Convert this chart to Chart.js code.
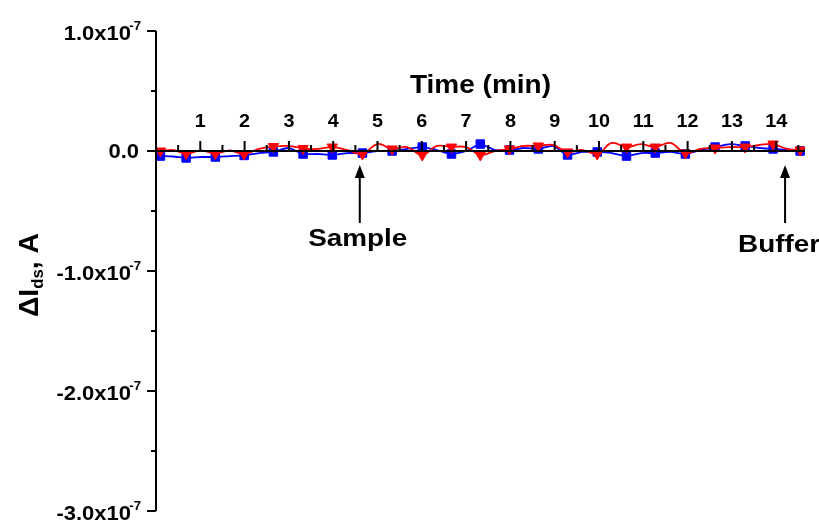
<!DOCTYPE html>
<html>
<head>
<meta charset="utf-8">
<script src="https://cdn.jsdelivr.net/npm/chart.js@4"></script>
<style>
  html, body { margin: 0; padding: 0; background: #ffffff; }
  #wrap { width: 819px; height: 525px; }
</style>
</head>
<body>
<div id="wrap"><canvas id="c" width="819" height="525"></canvas></div>
<script>
// ---- data ----
const timeValues = [0.10, 0.39, 0.68, 1.01, 1.34, 1.67, 1.99, 2.32, 2.65, 2.99, 3.32, 3.65, 3.98, 4.32, 4.66, 5.00, 5.33, 5.67, 6.01, 6.34, 6.67, 7.00, 7.32, 7.65, 7.98, 8.31, 8.63, 8.96, 9.29, 9.63, 9.96, 10.29, 10.62, 10.95, 11.27, 11.61, 11.95, 12.29, 12.62, 12.96, 13.30, 13.62, 13.93, 14.24, 14.54];
const blueValues = [-4.2e-9, -4.6e-9, -5.8e-9, -5.0e-9, -5.0e-9, -4.2e-9, -3.7e-9, -1.7e-9, -0.8e-9, 2.5e-9, -2.5e-9, -2.5e-9, -3.3e-9, -1.7e-9, -1.7e-9, 0, 0, 1.7e-9, 3.3e-9, 0.8e-9, -2.5e-9, 0, 5.8e-9, 0.8e-9, 0.8e-9, 2.5e-9, 1.7e-9, 4.2e-9, -3.3e-9, -0.8e-9, -0.8e-9, -1.7e-9, -4.2e-9, -1.7e-9, -1.7e-9, -0.8e-9, -2.5e-9, 0.8e-9, 3.3e-9, 5.8e-9, 4.2e-9, 2.5e-9, 1.7e-9, 0.8e-9, 0];
const redValues = [0, 0.8e-9, -2.1e-9, 0.4e-9, -2.1e-9, 0.4e-9, -2.5e-9, 1.7e-9, 3.7e-9, 4.2e-9, 2.1e-9, 1.7e-9, 3.3e-9, 0.8e-9, -2.5e-9, 5.8e-9, 1.7e-9, 3.3e-9, -3.3e-9, 4.2e-9, 3.3e-9, 3.3e-9, -3.3e-9, 0, 1.7e-9, 4.2e-9, 4.2e-9, 5.0e-9, -0.8e-9, 0.8e-9, -2.5e-9, 6.7e-9, 3.3e-9, 5.8e-9, 3.3e-9, 6.7e-9, -1.7e-9, 1.7e-9, 2.5e-9, 3.3e-9, 3.3e-9, 5.0e-9, 5.8e-9, 1.7e-9, 0.8e-9];
const xTickValues = [1, 2, 3, 4, 5, 6, 7, 8, 9, 10, 11, 12, 13, 14];
const xTickLabels = ['1', '2', '3', '4', '5', '6', '7', '8', '9', '10', '11', '12', '13', '14'];
const yTickValues = [1e-7, 0, -1e-7, -2e-7, -3e-7];
const yTickMantissas = ['1.0x10', '0.0', '-1.0x10', '-2.0x10', '-3.0x10'];
const yTickExponents = ['-7', '', '-7', '-7', '-7'];
const annotationLabels = ['Sample', 'Buffer'];
const annotationTimes = [4.6, 14.2];
const xTitle = 'Time (min)';

// ---- helpers ----
const FONT = '"Liberation Sans", Arial, sans-serif';
function stretchedText(ctx, text, x, y, size, align, sx) {
  ctx.save();
  ctx.font = 'bold ' + size + 'px ' + FONT;
  ctx.translate(x, y);
  ctx.scale(sx, 1);
  ctx.textAlign = align;
  ctx.textBaseline = 'alphabetic';
  ctx.fillStyle = '#000';
  ctx.fillText(text, 0, 0);
  ctx.restore();
}
function textWidth(ctx, text, size, sx) {
  ctx.save();
  ctx.font = 'bold ' + size + 'px ' + FONT;
  const w = ctx.measureText(text).width * sx;
  ctx.restore();
  return w;
}

const axesPlugin = {
  id: 'originAxes',
  afterDatasetsDraw(chart) {
    const ctx = chart.ctx;
    const xs = chart.scales.x, ys = chart.scales.y;
    const x0 = xs.getPixelForValue(0);
    const xEnd = xs.getPixelForValue(xs.max);
    const y0 = ys.getPixelForValue(0);
    const yTop = ys.getPixelForValue(ys.max);
    const yBot = ys.getPixelForValue(ys.min);
    ctx.save();
    ctx.strokeStyle = '#000';
    ctx.lineWidth = 2;
    ctx.lineCap = 'butt';
    // y axis line
    ctx.beginPath(); ctx.moveTo(x0, yTop); ctx.lineTo(x0, yBot); ctx.stroke();
    // y ticks (major + minor)
    for (let k = 0; k <= 8; k++) {
      const v = ys.min + k * (ys.max - ys.min) / 8;
      const p = Math.round(ys.getPixelForValue(v)) ;
      const len = (k % 2 === 0) ? 9 : 5;
      ctx.beginPath(); ctx.moveTo(x0 - len, p); ctx.lineTo(x0, p); ctx.stroke();
    }
    // x axis line at y = 0
    ctx.beginPath(); ctx.moveTo(x0, y0); ctx.lineTo(xEnd, y0); ctx.stroke();
    // x ticks (pointing up)
    for (let k = 1; k <= 29; k++) {
      const v = k * 0.5;
      const p = xs.getPixelForValue(v);
      const len = (k % 2 === 0) ? 10 : 6;
      ctx.beginPath(); ctx.moveTo(p, y0); ctx.lineTo(p, y0 - len); ctx.stroke();
    }
    // x tick labels above axis
    xTickValues.forEach((v, i) => {
      stretchedText(ctx, xTickLabels[i], xs.getPixelForValue(v), y0 - 24, 18, 'center', 1.1);
    });
    // x title
    stretchedText(ctx, xTitle, (x0 + xEnd) / 2, y0 - 58, 25, 'center', 1.12);
    // y tick labels with superscript exponent
    yTickValues.forEach((v, i) => {
      const p = ys.getPixelForValue(v);
      if (yTickExponents[i]) {
        stretchedText(ctx, yTickExponents[i], x0 - 15, p - 1, 12, 'right', 1.1);
        stretchedText(ctx, yTickMantissas[i], x0 - 25, p + 9, 20, 'right', 1.1);
      } else {
        stretchedText(ctx, yTickMantissas[i], x0 - 17, p + 7, 20, 'right', 1.1);
      }
    });
    // y axis title: ΔI_ds, A (rotated)
    ctx.save();
    const cx = 38, cy = 275;
    ctx.translate(cx, cy);
    ctx.rotate(-Math.PI / 2);
    const w1 = textWidth(ctx, '\u0394I', 27, 1.05);
    const w2 = textWidth(ctx, 'ds', 16, 1.05);
    const w3 = textWidth(ctx, ', A', 27, 1.05);
    let sx0 = -(w1 + w2 + w3) / 2;
    stretchedText(ctx, '\u0394I', sx0, 0, 27, 'left', 1.05);
    stretchedText(ctx, 'ds', sx0 + w1, 5, 16, 'left', 1.05);
    stretchedText(ctx, ', A', sx0 + w1 + w2, 0, 27, 'left', 1.05);
    ctx.restore();
    // annotations with arrows
    annotationLabels.forEach((lab, i) => {
      const ax = xs.getPixelForValue(annotationTimes[i]);
      const tip = y0 + 14;
      const tail = y0 + 72;
      ctx.fillStyle = '#000';
      ctx.lineWidth = 2;
      ctx.beginPath(); ctx.moveTo(ax, tip + 10); ctx.lineTo(ax, tail); ctx.stroke();
      ctx.beginPath();
      ctx.moveTo(ax, tip);
      ctx.lineTo(ax - 5, tip + 13);
      ctx.lineTo(ax + 5, tip + 13);
      ctx.closePath(); ctx.fill();
      const baseY = i === 0 ? y0 + 95 : y0 + 101;
      const tx = i === 0 ? ax - 2 : ax - 6;
      stretchedText(ctx, lab, tx, baseY, 24, 'center', 1.16);
    });
    ctx.restore();
  }
};

const blueData = timeValues.map((t, i) => ({ x: t, y: blueValues[i] }));
const redData = timeValues.map((t, i) => ({ x: t, y: redValues[i] }));
const markerRadius = (c) => (c.dataIndex % 2 === 0 ? 6 : 0);

new Chart(document.getElementById('c'), {
  type: 'line',
  data: {
    datasets: [
      {
        label: 'red',
        data: redData,
        borderColor: '#ff0000',
        backgroundColor: '#ff0000',
        borderWidth: 1.8,
        tension: 0.4,
        pointStyle: 'triangle',
        rotation: 180,
        pointRadius: markerRadius,
        pointBorderWidth: 1,
        pointBorderColor: '#ff0000',
        pointBackgroundColor: '#ff0000',
        order: 1
      },
      {
        label: 'blue',
        data: blueData,
        borderColor: '#0000ff',
        backgroundColor: '#0000ff',
        borderWidth: 1.8,
        tension: 0.2,
        pointStyle: 'rect',
        pointRadius: markerRadius,
        pointBorderWidth: 1,
        pointBorderColor: '#0000ff',
        pointBackgroundColor: '#0000ff',
        order: 2
      }
    ]
  },
  options: {
    responsive: false,
    devicePixelRatio: 1,
    animation: false,
    layout: { padding: { left: 156, right: 14, top: 31, bottom: 14 } },
    plugins: { legend: { display: false }, tooltip: { enabled: false } },
    scales: {
      x: { type: 'linear', min: 0, max: 14.65, display: false },
      y: { type: 'linear', min: -3e-7, max: 1e-7, display: false }
    }
  },
  plugins: [axesPlugin]
});
</script>
</body>
</html>
